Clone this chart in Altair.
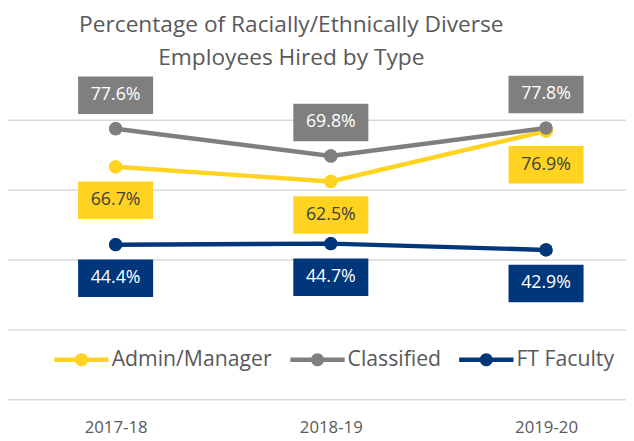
import altair as alt
import pandas as pd

years = ["2017-18", "2018-19", "2019-20"]
series_names = ["Admin/Manager", "Classified", "FT Faculty"]
admin_manager = [66.7, 62.5, 76.9]
classified = [77.6, 69.8, 77.8]
ft_faculty = [44.4, 44.7, 42.9]
series_colors = ["#FFD320", "#7F7F7F", "#00377A"]
grid_values = [0, 20, 40, 60, 80]

rows = []
for name, vals in zip(series_names, [admin_manager, classified, ft_faculty]):
    for yr, v in zip(years, vals):
        rows.append({"year": yr, "series": name, "value": v})
df = pd.DataFrame(rows)
grid_df = pd.DataFrame({"value": grid_values})

FONT = "Open Sans"
TXT = "#595959"

x_enc = alt.X(
    "year:O",
    sort=years,
    scale=alt.Scale(type="point", range=[109, 545], padding=0),
    axis=alt.Axis(title=None, domain=False, ticks=False, labelAngle=0,
                  labelFont=FONT, labelFontSize=17, labelColor=TXT,
                  labelPadding=20, grid=False),
)
y_scale = alt.Scale(domain=[0, 80], nice=False, zero=True)
y_enc = alt.Y(
    "value:Q",
    scale=y_scale,
    axis=alt.Axis(title=None, labels=False, ticks=False, domain=False, grid=False),
)
color_scale = alt.Scale(domain=series_names, range=series_colors)

grid = alt.Chart(grid_df).mark_rule(color="#D9D9D9", strokeWidth=1.5).encode(
    y=alt.Y("value:Q", scale=y_scale, axis=None),
    x=alt.value(0),
    x2=alt.value(626),
)

base = alt.Chart(df).encode(x=x_enc, y=y_enc)

legend_symbol = ("M-1,-0.08L1,-0.08L1,0.08L-1,0.08Z "
                 "M-0.24,0A0.24,0.24,0,1,1,0.24,0A0.24,0.24,0,1,1,-0.24,0Z")

points_legend = base.mark_point(filled=True, size=180, opacity=1).encode(
    color=alt.Color(
        "series:N", scale=color_scale, sort=series_names,
        legend=alt.Legend(
            title=None, orient="none", legendX=47, legendY=215,
            direction="horizontal", symbolType=legend_symbol,
            symbolSize=3025, symbolStrokeWidth=0, symbolOpacity=1,
            labelFont=FONT, labelFontSize=21.5, labelColor=TXT,
            labelOffset=3, columnPadding=18, labelLimit=400,
        ),
    ),
)

color_enc = alt.Color("series:N", scale=color_scale, sort=series_names)

lines = base.mark_line(strokeWidth=4.5).encode(
    color=color_enc,
    order=alt.Order("year:O"),
)

points = base.mark_point(filled=True, size=180, opacity=1).encode(color=color_enc)

box_shape = "M-1,-0.5L1,-0.5L1,0.5L-1,0.5Z"


def label_layers(filter_expr, offset):
    b = base.transform_filter(filter_expr)
    boxes = b.mark_point(shape=box_shape, filled=True, size=76 * 76,
                         opacity=1, yOffset=offset).encode(color=color_enc)
    texts = b.transform_calculate(
        label="format(datum.value, '.1f') + '%'"
    ).mark_text(font=FONT, fontSize=18, yOffset=offset).encode(
        text="label:N",
        color=alt.condition(alt.datum.series == "Admin/Manager",
                            alt.value("#404040"), alt.value("white")),
    )
    return boxes, texts


up_boxes, up_text = label_layers(alt.datum.series == "Classified", -34)
dn_boxes, dn_text = label_layers(alt.datum.series != "Classified", 34)

chart = alt.layer(
    points_legend, grid, lines, points, up_boxes, dn_boxes, up_text, dn_text
).properties(
    width=626, height=283,
    autosize="none",
    padding={"left": 0, "top": 111, "right": 0, "bottom": 38},
    background="white",
    title=alt.TitleParams(
        text=["Percentage of Racially/Ethnically Diverse", "Employees Hired by Type"],
        font=FONT, fontSize=23, fontWeight="normal", color=TXT,
        lineHeight=33, anchor="middle", dx=-26, dy=-2,
    ),
).configure_view(stroke=None)

chart.save("out.html", embed_options={"renderer": "svg", "actions": False})
